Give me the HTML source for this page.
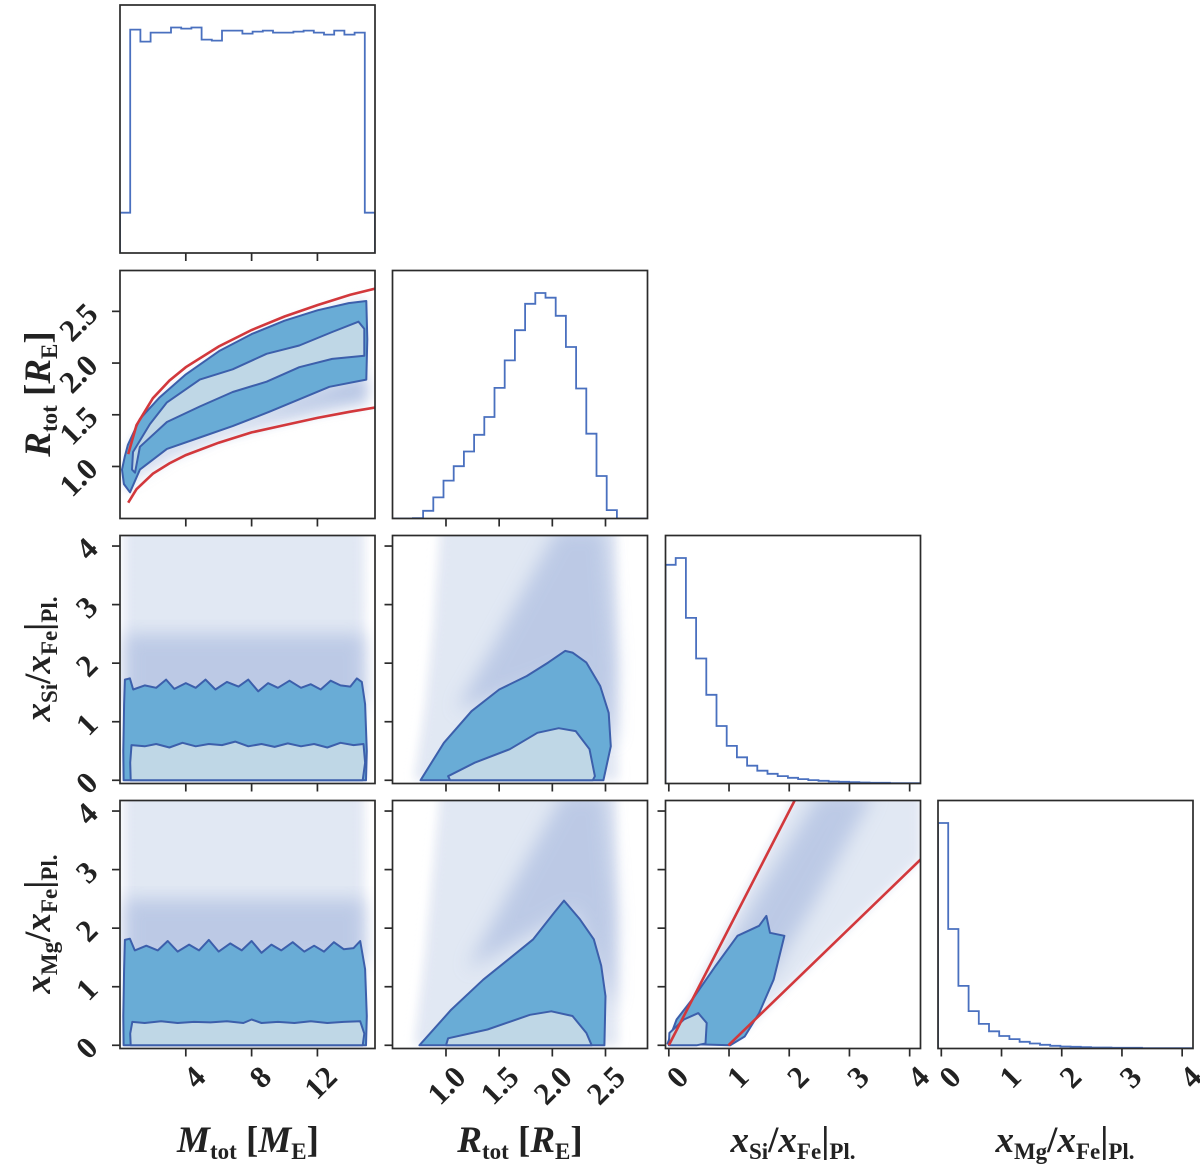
<!DOCTYPE html>
<html><head><meta charset="utf-8"><title>Corner plot</title>
<style>
html,body{margin:0;padding:0;background:#fff;}
svg{display:block;font-family:"Liberation Serif",serif;}
.tl{font-size:31px;font-weight:bold;fill:#222;}
.al{font-size:37px;font-weight:bold;fill:#222;}
</style></head>
<body>
<svg id="chart" width="1200" height="1168" viewBox="0 0 1200 1168" xmlns="http://www.w3.org/2000/svg">
<defs>
<pattern id="dots" width="4" height="4" patternUnits="userSpaceOnUse">
<circle cx="1" cy="1" r="0.8" fill="#4b6fb8" opacity="0.4"/>
<circle cx="3" cy="3" r="0.6" fill="#4b6fb8" opacity="0.25"/>
</pattern>
<filter id="blur3" x="-10%" y="-10%" width="120%" height="120%"><feGaussianBlur stdDeviation="5"/></filter>
<filter id="blur8" x="-20%" y="-20%" width="140%" height="140%"><feGaussianBlur stdDeviation="9"/></filter>
</defs>
<g id="panels"></g>
<text class="al" x="248" y="1152" text-anchor="middle"><tspan font-style="italic">M</tspan><tspan font-size="23" dy="7">tot</tspan><tspan dy="-7"> [</tspan><tspan font-style="italic">M</tspan><tspan font-size="23" dy="7">E</tspan><tspan dy="-7">]</tspan></text>
<text class="al" x="520" y="1152" text-anchor="middle"><tspan font-style="italic">R</tspan><tspan font-size="23" dy="7">tot</tspan><tspan dy="-7"> [</tspan><tspan font-style="italic">R</tspan><tspan font-size="23" dy="7">E</tspan><tspan dy="-7">]</tspan></text>
<text class="al" x="793" y="1152" text-anchor="middle"><tspan font-style="italic">x</tspan><tspan font-size="23" dy="7">Si</tspan><tspan dy="-7">/</tspan><tspan font-style="italic">x</tspan><tspan font-size="23" dy="7">Fe</tspan><tspan dy="-7">|</tspan><tspan font-size="23" dy="7">Pl.</tspan></text>
<text class="al" x="1065" y="1152" text-anchor="middle"><tspan font-style="italic">x</tspan><tspan font-size="23" dy="7">Mg</tspan><tspan dy="-7">/</tspan><tspan font-style="italic">x</tspan><tspan font-size="23" dy="7">Fe</tspan><tspan dy="-7">|</tspan><tspan font-size="23" dy="7">Pl.</tspan></text>
<text class="al" transform="translate(50,394) rotate(-90)" text-anchor="middle"><tspan font-style="italic">R</tspan><tspan font-size="23" dy="7">tot</tspan><tspan dy="-7"> [</tspan><tspan font-style="italic">R</tspan><tspan font-size="23" dy="7">E</tspan><tspan dy="-7">]</tspan></text>
<text class="al" transform="translate(50,659) rotate(-90)" text-anchor="middle"><tspan font-style="italic">x</tspan><tspan font-size="23" dy="7">Si</tspan><tspan dy="-7">/</tspan><tspan font-style="italic">x</tspan><tspan font-size="23" dy="7">Fe</tspan><tspan dy="-7">|</tspan><tspan font-size="23" dy="7">Pl.</tspan></text>
<text class="al" transform="translate(50,924) rotate(-90)" text-anchor="middle"><tspan font-style="italic">x</tspan><tspan font-size="23" dy="7">Mg</tspan><tspan dy="-7">/</tspan><tspan font-style="italic">x</tspan><tspan font-size="23" dy="7">Fe</tspan><tspan dy="-7">|</tspan><tspan font-size="23" dy="7">Pl.</tspan></text>
</svg>
<script>
// ---- data ----
const varNames = ["mtot","rtot","si-fe","mg-fe"];
const rangeM = [0, 15.5];
const rangeR = [0.497, 2.895];
const rangeSi = [-0.055, 4.18];
const rangeMg = [-0.055, 4.18];
const ticksM = [4, 8, 12];
const ticksR = [1.0, 1.5, 2.0, 2.5];
const ticksSi = [0, 1, 2, 3, 4];
const ticksMg = [0, 1, 2, 3, 4];
const tickLabelsM = ["4","8","12"];
const tickLabelsR = ["1.0","1.5","2.0","2.5"];
const tickLabelsSi = ["0","1","2","3","4"];
const tickLabelsMg = ["0","1","2","3","4"];
const histM = [40,222,210,219,219,224,223,224,212,211,221,221,218,220,221,219,219,220,221,219,217,221,217,219,40];
const histR = [0,0,1,23,63,113,156,200,250,303,390,472,562,641,673,659,605,512,388,253,127,25,0,0,0];
const histSi = [651,671,493,372,264,171,112,78,53,38,29,22,17,13,10,8,6,5,4,3,2,2,1,1,1];
const histMg = [670,355,186,111,73,51,37,28,20,15,11,8,6,5,4,3,3,2,2,2,1,1,1,1,1];
const redM = [0.5,1,2,3,4,6,8,10,12,14,15.5];
const redRUpper = [1.12,1.40,1.66,1.83,1.96,2.16,2.32,2.45,2.56,2.66,2.72];
const redRLower = [0.65,0.78,0.93,1.03,1.11,1.23,1.33,1.40,1.47,1.53,1.57];
const redUpperSi = [0, 2.09];
const redUpperMg = [0, 4.18];
const redLowerSi = [0.99, 4.25];
const redLowerMg = [0, 3.24];
const mrOuter = [[0.30,1.10],[0.48,1.21],[1.21,1.46],[2.42,1.67],[4.0,1.89],[6.06,2.12],[8.0,2.28],[10.0,2.41],[12.0,2.51],[13.9,2.58],[14.97,2.60],[15.03,2.23],[14.97,1.84],[12.73,1.77],[10.9,1.65],[9.09,1.53],[6.85,1.39],[4.85,1.28],[2.85,1.17],[1.21,0.97],[0.61,0.75],[0.24,0.83],[0.12,0.97]];
const mrInner = [[0.73,0.97],[0.79,1.14],[1.82,1.41],[2.85,1.62],[4.85,1.84],[6.85,1.94],[8.91,2.09],[10.9,2.17],[12.9,2.30],[14.5,2.40],[14.85,2.33],[14.85,2.07],[12.9,2.04],[10.9,1.96],[8.91,1.82],[6.85,1.72],[4.85,1.58],[2.85,1.43],[1.21,1.19],[0.91,0.94]];
const mrCloud = [[0.3,1.1],[0.48,1.21],[2.42,1.67],[6.06,2.12],[10,2.41],[13.9,2.6],[14.97,2.64],[15.03,1.6],[12,1.49],[9,1.38],[6,1.24],[3,1.07],[1.2,0.9],[0.6,0.72],[0.2,0.82]];
const mrDense = [[15.0,2.0],[15.0,1.68],[12,1.60],[9,1.48],[6,1.33],[3,1.14],[1.2,0.94],[0.6,0.76],[1.21,0.97],[2.85,1.17],[6.85,1.39],[10.9,1.65],[14.97,1.84]];
const msOuter = [[0.22,0],[0.2,0.5],[0.25,1.3],[0.3,1.72],[0.6,1.74],[0.8,1.55],[1.5,1.62],[2.2,1.58],[2.8,1.72],[3.3,1.56],[4.0,1.66],[4.6,1.58],[5.2,1.72],[5.8,1.55],[6.5,1.68],[7.2,1.60],[7.8,1.72],[8.4,1.52],[9.0,1.66],[9.6,1.58],[10.3,1.70],[11.0,1.58],[11.6,1.64],[12.2,1.55],[12.8,1.70],[13.4,1.62],[14.0,1.60],[14.4,1.74],[14.7,1.68],[14.9,1.3],[15.0,0.5],[14.95,0]];
const msInner = [[0.65,0],[0.62,0.3],[0.7,0.6],[1.5,0.58],[2.2,0.62],[3.0,0.56],[3.8,0.64],[4.6,0.58],[5.4,0.62],[6.2,0.60],[7.0,0.66],[7.8,0.58],[8.6,0.62],[9.4,0.57],[10.2,0.63],[11.0,0.58],[11.8,0.62],[12.6,0.56],[13.4,0.64],[14.2,0.60],[14.8,0.62],[14.9,0.3],[14.75,0]];
const msCloud = [[0.25,0],[0.25,4.4],[14.85,4.4],[14.9,0]];
const msDense = [[0.25,1.3],[0.25,2.5],[14.85,2.5],[14.9,1.3]];
const rsOuter = [[0.76,0],[0.98,0.64],[1.24,1.18],[1.50,1.55],[1.76,1.78],[1.96,2.01],[2.12,2.21],[2.19,2.18],[2.32,2.01],[2.45,1.61],[2.53,1.15],[2.55,0.58],[2.48,0]];
const rsInner = [[1.04,0],[1.02,0.07],[1.27,0.30],[1.60,0.53],[1.86,0.81],[2.06,0.89],[2.22,0.84],[2.35,0.53],[2.40,0.07],[2.38,0]];
const rsCloud = [[0.70,0],[0.80,1.2],[0.88,2.6],[0.95,4.4],[2.60,4.4],[2.62,0]];
const rsDense = [[1.1,1.2],[1.45,2.3],[1.75,3.3],[2.05,4.3],[2.5,4.3],[2.6,2.0],[2.58,0.6],[2.2,1.9],[1.6,1.5]];
const mmOuter = [[0.22,0],[0.2,0.5],[0.25,1.3],[0.3,1.80],[0.6,1.82],[0.9,1.62],[1.6,1.70],[2.3,1.62],[2.9,1.78],[3.5,1.60],[4.2,1.72],[4.8,1.62],[5.4,1.80],[6.0,1.60],[6.7,1.74],[7.4,1.62],[8.0,1.78],[8.6,1.58],[9.2,1.72],[9.8,1.62],[10.5,1.76],[11.2,1.60],[11.8,1.70],[12.4,1.60],[13.0,1.76],[13.6,1.64],[14.2,1.66],[14.6,1.78],[14.9,1.3],[15.0,0.5],[14.95,0]];
const mmInner = [[0.65,0],[0.62,0.2],[0.75,0.40],[1.5,0.38],[2.5,0.41],[3.5,0.38],[4.5,0.40],[5.5,0.39],[6.5,0.41],[7.5,0.38],[8.0,0.44],[8.6,0.38],[9.6,0.40],[10.6,0.38],[11.6,0.41],[12.6,0.38],[13.6,0.40],[14.6,0.41],[14.85,0.2],[14.75,0]];
const mmCloud = [[0.25,0],[0.25,4.4],[14.85,4.4],[14.9,0]];
const mmDense = [[0.25,1.4],[0.25,2.5],[14.85,2.5],[14.9,1.4]];
const rmOuter = [[0.75,0],[1.05,0.61],[1.35,1.12],[1.59,1.47],[1.82,1.81],[2.02,2.27],[2.11,2.47],[2.26,2.15],[2.39,1.81],[2.46,1.36],[2.50,0.84],[2.49,0]];
const rmInner = [[1.0,0],[1.02,0.12],[1.39,0.27],[1.79,0.52],[1.99,0.58],[2.19,0.50],[2.32,0.21],[2.37,0]];
const rmCloud = [[0.70,0],[0.8,1.5],[0.95,4.4],[2.60,4.4],[2.62,0]];
const rmDense = [[1.2,1.3],[1.5,2.3],[1.8,3.3],[2.1,4.3],[2.5,4.3],[2.6,2.2],[2.58,0.6],[2.2,2.3],[1.7,1.8]];
const smOuter = [[-0.02,0.03],[0.13,0.44],[0.43,0.84],[0.78,1.36],[1.14,1.87],[1.5,2.04],[1.62,2.21],[1.68,1.92],[1.92,1.87],[1.74,1.12],[1.5,0.55],[1.26,0.15],[1.02,0]];
const smInner = [[0,0],[0.01,0.21],[0.25,0.44],[0.49,0.55],[0.63,0.38],[0.61,0.03],[0.46,0]];
const smCloud = [[0,0],[2.1,4.3],[4.2,4.3],[4.2,3.2],[1.0,0]];
const smDense = [[0.6,0.9],[1.5,2.6],[2.5,4.3],[3.4,4.3],[2.4,2.4],[1.7,1.2]];

// ---- layout ----
const colX = [120, 392.5, 665.5, 938];
const rowY = [5, 270.5, 535.5, 800.5];
const W = 255, H = 248;
const ranges = [rangeM, rangeR, rangeSi, rangeMg];
const ticks = [ticksM, ticksR, ticksSi, ticksMg];
const tickLabels = [tickLabelsM, tickLabelsR, tickLabelsSi, tickLabelsMg];
const hists = [histM, histR, histSi, histMg];
const NS = "http://www.w3.org/2000/svg";
const root = document.getElementById("panels");
function px(v, col){ const r = ranges[col]; return colX[col] + (v - r[0]) / (r[1] - r[0]) * W; }
function py(v, row){ const r = ranges[row]; return rowY[row] + H - (v - r[0]) / (r[1] - r[0]) * H; }
function el(tag, attrs, parent){ const e = document.createElementNS(NS, tag); for (const k in attrs) e.setAttribute(k, attrs[k]); parent.appendChild(e); return e; }
function polyPts(arr, row, col){ return arr.map(p => px(p[0], col).toFixed(1) + "," + py(p[1], row).toFixed(1)).join(" "); }

const defs = document.querySelector("defs");
for (let r = 0; r < 4; r++) for (let c = 0; c <= r; c++) {
  const cp = el("clipPath", {id: "clip" + r + c}, defs);
  el("rect", {x: colX[c], y: rowY[r], width: W, height: H}, cp);
}

function drawPoly(g, arr, row, col, attrs, name){
  const p = el("polygon", Object.assign({points: polyPts(arr, row, col)}, attrs), g);
  
  
  return p;
}

function draw2D(row, col, cloud, dense, outer, inner, key, denseCol){
  const g = el("g", {"clip-path": "url(#clip" + row + col + ")"}, root);
  
  
  drawPoly(g, cloud, row, col, {fill: "#e6ebf5", filter: "url(#blur3)"}, 'scatter-cloud-' + key);
  drawPoly(g, cloud, row, col, {fill: "url(#dots)", opacity: 0.45, filter: "url(#blur3)"}, 'scatter-points-' + key);
  drawPoly(g, dense, row, col, {fill: denseCol || "#a9badf", opacity: 0.65, filter: "url(#blur8)"}, 'scatter-dense-' + key);
  drawPoly(g, outer, row, col, {fill: "#69acd6", stroke: "#3c5fab", "stroke-width": 2, "stroke-linejoin": "round"}, 'contour-outer-' + key);
  drawPoly(g, inner, row, col, {fill: "#bfd7e6", stroke: "#3c5fab", "stroke-width": 2, "stroke-linejoin": "round"}, 'contour-inner-' + key);
  return g;
}

const gMR = draw2D(1, 0, mrCloud, mrDense, mrOuter, mrInner, "mtot-rtot", "#7f98d0");
const upPts = redM.map((m, i) => px(m, 0).toFixed(1) + "," + py(redRUpper[i], 1).toFixed(1)).join(" ");
const loPts = redM.map((m, i) => px(m, 0).toFixed(1) + "," + py(redRLower[i], 1).toFixed(1)).join(" ");
const ru = el("polyline", {points: upPts, fill: "none", stroke: "#d2383c", "stroke-width": 2.6}, gMR);


const rl = el("polyline", {points: loPts, fill: "none", stroke: "#d2383c", "stroke-width": 2.6}, gMR);



draw2D(2, 0, msCloud, msDense, msOuter, msInner, "mtot-si");
draw2D(2, 1, rsCloud, rsDense, rsOuter, rsInner, "rtot-si");
draw2D(3, 0, mmCloud, mmDense, mmOuter, mmInner, "mtot-mg");
draw2D(3, 1, rmCloud, rmDense, rmOuter, rmInner, "rtot-mg");
const gSM = draw2D(3, 2, smCloud, smDense, smOuter, smInner, "si-mg");
const l1 = el("line", {x1: px(redUpperSi[0], 2), y1: py(redUpperMg[0], 3), x2: px(redUpperSi[1], 2), y2: py(redUpperMg[1], 3), stroke: "#d2383c", "stroke-width": 2.6}, gSM);


const l2 = el("line", {x1: px(redLowerSi[0], 2), y1: py(redLowerMg[0], 3), x2: px(redLowerSi[1], 2), y2: py(redLowerMg[1], 3), stroke: "#d2383c", "stroke-width": 2.6}, gSM);



for (let k = 0; k < 4; k++) {
  const h = hists[k];
  const n = h.length;
  const r = ranges[k];
  const mx = Math.max.apply(null, h) * 1.1;
  const base = rowY[k] + H;
  const bw = (r[1] - r[0]) / n;
  let d = "M" + px(r[0], k).toFixed(1) + "," + base;
  for (let i = 0; i < n; i++) {
    const yy = base - h[i] / mx * H;
    d += " V" + yy.toFixed(1) + " H" + px(r[0] + (i + 1) * bw, k).toFixed(1);
  }
  d += " V" + base;
  const g = el("g", {"clip-path": "url(#clip" + k + k + ")"}, root);
  
  
  const p = el("path", {d: d, fill: "none", stroke: "#4a70bf", "stroke-width": 1.8}, g);
  
  
}

for (let r = 0; r < 4; r++) for (let c = 0; c <= r; c++) {
  const fr = el("rect", {x: colX[c], y: rowY[r], width: W, height: H, fill: "none", stroke: "#2b2b2b", "stroke-width": 1.7}, root);
  
  
  const base = rowY[r] + H;
  ticks[c].forEach((t, i) => {
    const x = px(t, c);
    const tk = el("line", {x1: x, y1: base, x2: x, y2: base + 8, stroke: "#2b2b2b", "stroke-width": 1.7}, root);
    
    
    if (r === 3) {
      const ax = x + 14, ay = base + 23;
      const tx = el("text", {x: ax, y: ay, "text-anchor": "end", "dominant-baseline": "central", class: "tl", transform: "rotate(-45 " + ax + " " + ay + ")"}, root);
      tx.textContent = tickLabels[c][i];
      
      
    }
  });
  if (c < r) {
    ticks[r].forEach((t, i) => {
      const y = py(t, r);
      const tk = el("line", {x1: colX[c] - 8, y1: y, x2: colX[c], y2: y, stroke: "#2b2b2b", "stroke-width": 1.7}, root);
      
      
      if (c === 0) {
        const ax = 92, ay = y - 3;
        const tx = el("text", {x: ax, y: ay, "text-anchor": "end", "dominant-baseline": "central", class: "tl", transform: "rotate(-45 " + ax + " " + ay + ")"}, root);
        tx.textContent = tickLabels[r][i];
        
        
      }
    });
  }
}
</script>
</body></html>
